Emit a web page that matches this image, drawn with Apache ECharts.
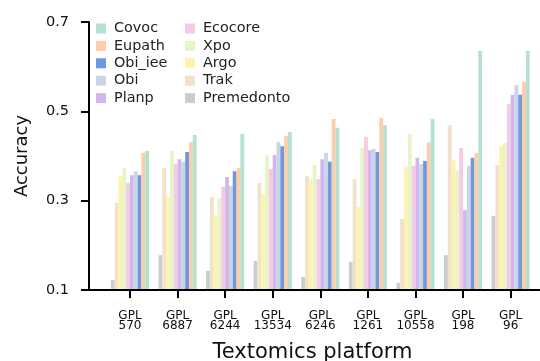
<!DOCTYPE html>
<html>
<head>
<meta charset="utf-8">
<script src="https://cdn.jsdelivr.net/npm/echarts@6/dist/echarts.min.js"></script>
<style>html,body{margin:0;padding:0;background:#fff;}#c{width:540px;height:361px;}</style>
</head>
<body>
<div id="c"></div>
<script>
const categories = ['GPL\n570','GPL\n6887','GPL\n6244','GPL\n13534','GPL\n6246','GPL\n1261','GPL\n10558','GPL\n198','GPL\n96'];
const yTicks = [0.1, 0.3, 0.5, 0.7];

const premedonto = [0.122,0.178,0.143,0.165,0.129,0.163,0.116,0.178,0.266];
const trak       = [0.295,0.373,0.308,0.340,0.355,0.348,0.259,0.469,0.380];
const argo       = [0.355,0.308,0.268,0.315,0.348,0.286,0.375,0.391,0.422];
const xpo        = [0.373,0.411,0.306,0.402,0.380,0.418,0.449,0.366,0.429];
const ecocore    = [0.340,0.382,0.331,0.371,0.348,0.443,0.378,0.418,0.516];
const planp      = [0.357,0.393,0.353,0.402,0.393,0.413,0.396,0.279,0.537];
const obi        = [0.366,0.387,0.333,0.431,0.407,0.416,0.382,0.378,0.559];
const obiIee     = [0.357,0.409,0.366,0.422,0.387,0.409,0.389,0.396,0.537];
const eupath     = [0.407,0.431,0.373,0.445,0.483,0.485,0.431,0.407,0.566];
const covoc      = [0.411,0.447,0.449,0.454,0.463,0.469,0.483,0.635,0.635];

const seriesDefs = [
  ['Premedonto', premedonto, '#cccccc'],
  ['Trak', trak, '#f1e2cc'],
  ['Argo', argo, '#fff2ae'],
  ['Xpo', xpo, '#e6f5c9'],
  ['Ecocore', ecocore, '#f4cae4'],
  ['Planp', planp, '#d1b8ec'],
  ['Obi', obi, '#cbd5e8'],
  ['Obi_iee', obiIee, '#7098dd'],
  ['Eupath', eupath, '#fdcdac'],
  ['Covoc', covoc, '#b3e2cd']
];
const legendCol1 = ['Covoc','Eupath','Obi_iee','Obi','Planp'];
const legendCol2 = ['Ecocore','Xpo','Argo','Trak','Premedonto'];

const FONT = 'DejaVu Sans';
const chart = echarts.init(document.getElementById('c'), null, {renderer:'canvas'});
const catIdx = categories.map((c,i)=>i);
const legendCommon = {
  orient:'vertical', icon:'rect', itemWidth:10, itemHeight:10, itemGap:3.4, padding:0,
  textStyle:{fontFamily:FONT, fontSize:14.4, color:'#222', lineHeight:14, padding:[0,0,0,3]},
  selectedMode:false
};
chart.setOption({
  animation:false,
  backgroundColor:'#fff',
  grid:{left:89, right:0, top:22, bottom:71, outerBoundsMode:'none', containLabel:false},
  legend:[
    Object.assign({left:96, top:21.5, data:legendCol1}, legendCommon),
    Object.assign({left:185, top:21.5, data:legendCol2}, legendCommon)
  ],
  xAxis:{
    type:'value', min:-0.861, max:8.617, z:5,
    name:'Textomics platform', nameLocation:'middle', nameGap:52,
    nameTextStyle:{fontFamily:FONT, fontSize:21, color:'#111', padding:[0,4,0,0]},
    axisLine:{onZero:false, lineStyle:{color:'#000', width:2}},
    axisTick:{show:true, length:8, lineStyle:{color:'#000', width:2}, customValues:catIdx},
    axisLabel:{customValues:catIdx, formatter:(v)=>categories[Math.round(v)], fontFamily:FONT, fontSize:12, lineHeight:9.8, color:'#111', margin:21},
    splitLine:{show:false}
  },
  yAxis:{
    type:'value', min:0.1, max:0.7, interval:0.2, z:5,
    name:'Accuracy', nameLocation:'middle', nameGap:58,
    nameTextStyle:{fontFamily:FONT, fontSize:18, color:'#111'},
    axisLine:{show:true, onZero:false, lineStyle:{color:'#000', width:2}},
    axisTick:{show:true, length:8, lineStyle:{color:'#000', width:2}},
    axisLabel:{customValues:yTicks, formatter:(v)=>v.toFixed(1), fontFamily:FONT, fontSize:14.5, color:'#111', margin:20},
    splitLine:{show:false}
  },
  series: seriesDefs.map(([name, vals, color]) => ({
    name, type:'bar', barGap:0, barCategoryGap:'20%',
    itemStyle:{color},
    data: vals.map((v,i)=>[i, v])
  }))
});
</script>
</body>
</html>
